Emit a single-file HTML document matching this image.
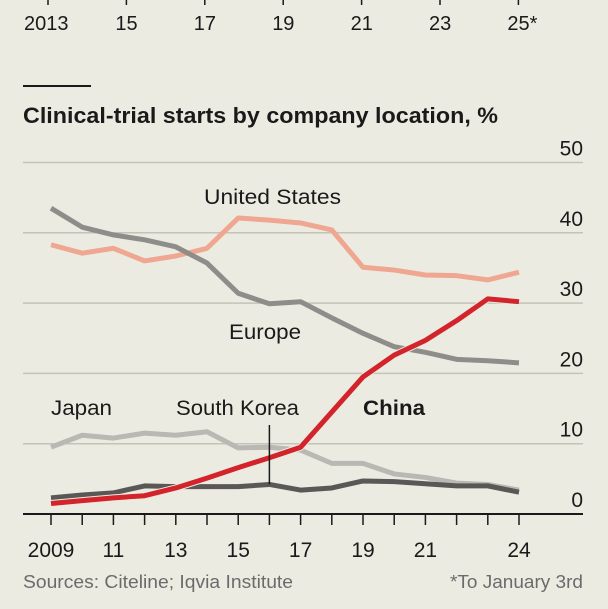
<!DOCTYPE html>
<html><head><meta charset="utf-8"><style>
body{margin:0;background:#ecebe2;}
svg{display:block;font-family:"Liberation Sans",sans-serif;}
</style></head><body>
<svg width="608" height="609" viewBox="0 0 608 609">
<rect width="608" height="609" fill="#ecebe2"/>
<g id="topaxis"></g>
<rect x="23" y="85" width="68" height="2" fill="#1a1a1a"/>
<text x="23" y="123" font-size="22" font-weight="bold" fill="#1a1a1a" textLength="475" lengthAdjust="spacingAndGlyphs">Clinical-trial starts by company location, %</text>
<g id="grid"></g>
<g id="series"></g>
<g id="xaxis"></g>
<text x="204" y="204" font-size="21" fill="#1a1a1a" textLength="137" lengthAdjust="spacingAndGlyphs">United States</text>
<text x="229" y="339" font-size="21" fill="#1a1a1a" textLength="72" lengthAdjust="spacingAndGlyphs">Europe</text>
<text x="51" y="415" font-size="21" fill="#1a1a1a" textLength="61" lengthAdjust="spacingAndGlyphs">Japan</text>
<text x="176" y="415" font-size="21" fill="#1a1a1a" textLength="123" lengthAdjust="spacingAndGlyphs">South Korea</text>
<text x="363" y="415" font-size="21" font-weight="bold" fill="#1a1a1a" textLength="62" lengthAdjust="spacingAndGlyphs">China</text>
<text x="23" y="588" font-size="18" fill="#6b6b6b" textLength="270" lengthAdjust="spacingAndGlyphs">Sources: Citeline; Iqvia Institute</text>
<text x="583" y="588" font-size="18" fill="#6b6b6b" text-anchor="end" textLength="133" lengthAdjust="spacingAndGlyphs">*To January 3rd</text>
</svg>
<script>
const years=[2009,2010,2011,2012,2013,2014,2015,2016,2017,2018,2019,2020,2021,2022,2023,2024];
const usValues=[38.3,37.1,37.8,36,36.7,37.8,42.1,41.8,41.4,40.4,35.1,34.7,34,33.9,33.3,34.4];
const europeValues=[43.5,40.8,39.7,39,38,35.7,31.4,29.9,30.2,27.9,25.7,23.8,23,22,21.8,21.5];
const japanValues=[9.5,11.2,10.8,11.5,11.2,11.7,9.4,9.5,9.1,7.2,7.2,5.7,5.2,4.4,4.2,3.4];
const koreaValues=[2.3,2.7,3,4,3.9,3.9,3.9,4.2,3.4,3.7,4.7,4.6,4.3,4,4,3.1];
const chinaValues=[1.5,1.9,2.3,2.6,3.7,5.1,6.6,8.0,9.5,14.5,19.5,22.6,24.7,27.5,30.6,30.2];
const yTicks=[0,10,20,30,40,50];
const xTickLabels=["2009","11","13","15","17","19","21","24"];
const xTickYears=[2009,2011,2013,2015,2017,2019,2021,2024];
const topLabels=["2013","15","17","19","21","23","25*"];
const topYears=[2013,2015,2017,2019,2021,2023,2025];
const NS="http://www.w3.org/2000/svg";
const xs=v=>51+(v-2009)*31.2;
const ys=v=>514-v*7.03;
const xt=v=>48+(v-2013)*39.2;
function mk(tag,attrs,parent){const e=document.createElementNS(NS,tag);for(const k in attrs)e.setAttribute(k,attrs[k]);parent.appendChild(e);return e;}
const topGroup=document.getElementById('topaxis');
topYears.forEach((yr,i)=>{
 const t=mk('line',{x1:xt(yr),x2:xt(yr),y1:0,y2:5,stroke:'#1a1a1a','stroke-width':1.5},topGroup);
 
 
 const l=mk('text',{x:xt(yr)-(i==0?24:11),y:30,'font-size':20,fill:'#1a1a1a'},topGroup);
 l.textContent=topLabels[i];
 
 
});
const gridGroup=document.getElementById('grid');
yTicks.forEach(v=>{
 if(v>0){const g=mk('line',{x1:23,x2:583,y1:ys(v),y2:ys(v),stroke:'#c4c3ba','stroke-width':1.5},gridGroup);
 
 }
 const l=mk('text',{x:583,y:ys(v)-7,'font-size':21,fill:'#1a1a1a','text-anchor':'end'},gridGroup);
 l.textContent=v;
 
 
});
const serGroup=document.getElementById('series');
function drawLine(vals,color,w,name){
 const p=mk('polyline',{points:vals.map((v,i)=>xs(years[i])+','+ys(v)).join(' '),fill:'none',stroke:color,'stroke-width':w,'stroke-linejoin':'round','stroke-linecap':'butt'},serGroup);
 
 
}
drawLine(usValues,'#f0a791',5,'line-united-states');
drawLine(europeValues,'#8f8d89',5,'line-europe');
drawLine(japanValues,'#b9b8b3',5,'line-japan');
drawLine(koreaValues,'#5a5856',5,'line-south-korea');
const halo=mk('polyline',{points:chinaValues.map((v,i)=>xs(years[i])+','+ys(v)).join(' '),fill:'none',stroke:'#ecebe2','stroke-width':7,'stroke-linejoin':'round'},serGroup);


drawLine(chinaValues,'#d3232b',5,'line-china');
const ld=mk('line',{x1:xs(2016),x2:xs(2016),y1:425,y2:ys(koreaValues[7]),stroke:'#1a1a1a','stroke-width':1.5},serGroup);


const xaGroup=document.getElementById('xaxis');
const ax=mk('line',{x1:23,x2:583,y1:514,y2:514,stroke:'#1a1a1a','stroke-width':2},xaGroup);


years.forEach(yr=>{
 const t=mk('line',{x1:xs(yr),x2:xs(yr),y1:514,y2:525,stroke:'#1a1a1a','stroke-width':1.5},xaGroup);
 
 
});
xTickYears.forEach((yr,i)=>{
 const l=mk('text',{x:xs(yr),y:557,'font-size':21,fill:'#1a1a1a','text-anchor':'middle'},xaGroup);
 l.textContent=xTickLabels[i];
 
 
});
</script>
</body></html>
